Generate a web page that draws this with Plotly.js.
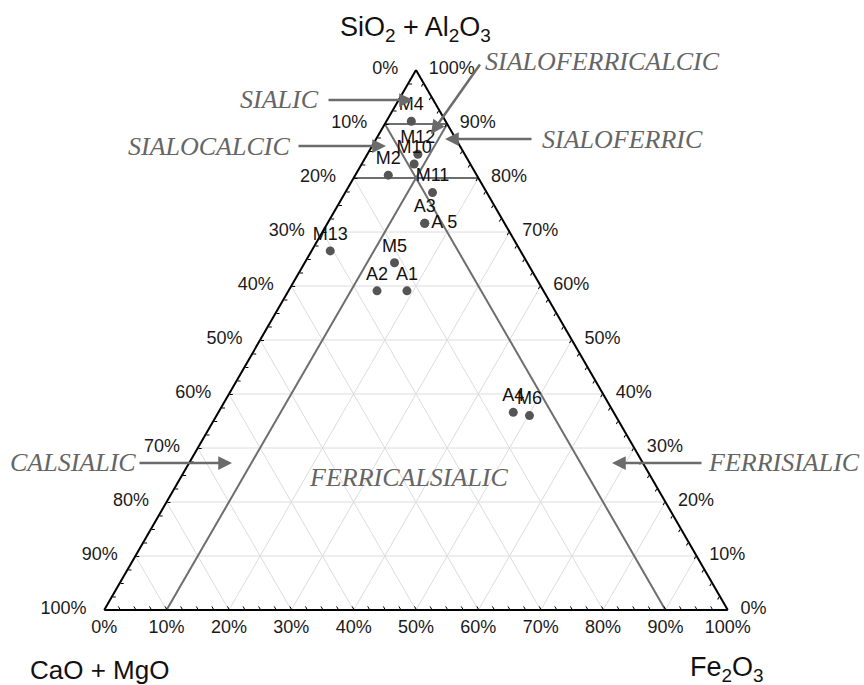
<!DOCTYPE html>
<html><head><meta charset="utf-8">
<script src="https://cdn.plot.ly/plotly-3.0.1.min.js"></script>
<style>html,body{margin:0;padding:0;background:#fff}#chart{width:864px;height:685px}</style>
</head><body><div id="chart"></div>
<script>
// ---- data (percent) ----
const samples   = ['M4','M12','M10','M2','M11','A3','A 5','M13','M5','A2','A1','A4','M6'];
const sio2Al2o3 = [90.5, 84.4, 82.6, 80.6, 77.3, 71.6, 71.6, 66.5, 64.3, 59.1, 59.1, 36.6, 36.0];
const caoMgo    = [ 5.5,  7.5,  9.0, 14.2,  8.7, 12.8, 12.8, 30.5, 21.3, 26.7, 21.9, 16.1, 13.8];
const fe2o3     = [ 4.0,  8.1,  8.4,  5.3, 14.0, 15.6, 15.6,  3.0, 14.4, 14.2, 19.0, 47.3, 50.2];
const labelPositions = ['top center','top center','top center','top center','top center','top center',
  'middle right','top center','top center','top center','top center','top center','top center'];

// tick labels (clockwise reading of the diagram)
const tickPercents = [0,10,20,30,40,50,60,70,80,90,100];
const tickLabels   = ['100%','90%','80%','70%','60%','50%','40%','30%','20%','10%','0%'];
const minorStep = 2.5;
const gridLevels = [10,20,30,40,50,60,70,80,90];

// field boundaries (a = SiO2+Al2O3, b = CaO+MgO, c = Fe2O3)
const fieldLines = [
  {name:'Fe2O3 = 10%',        a:[0,101], b:[90,-11], c:[10,10]},
  {name:'CaO+MgO = 10%',      a:[0,90],  b:[10,10],  c:[90,0]},
  {name:'SiO2+Al2O3 = 90%',   a:[90,90], b:[10,0],   c:[0,10]},
  {name:'SiO2+Al2O3 = 80%',   a:[80,80], b:[20,0],   c:[0,20]}
];

// ---- ticks ----
const NB = '\u00a0';
function makeTicks(prefix, suffix) {
  const vals = [], txt = [];
  for (let v = 0; v <= 100 + 1e-9; v += minorStep) {
    vals.push(v);
    const k = tickPercents.indexOf(Math.round(v*10)/10);
    txt.push(k >= 0 ? prefix + tickLabels[k] + suffix : '');
  }
  return {vals, txt};
}
const ticksA = makeTicks('', NB+NB+NB);
const ticksB = makeTicks('', '');
const ticksC = makeTicks(NB+NB, '');

// ---- grid ----
const ga = [], gb = [], gc = [];
gridLevels.forEach(v => {
  ga.push(v, v, null); gb.push(100-v, 0, null); gc.push(0, 100-v, null);
  gb.push(v, v, null); ga.push(100-v, 0, null); gc.push(0, 100-v, null);
  gc.push(v, v, null); ga.push(100-v, 0, null); gb.push(0, 100-v, null);
});

const traces = [];
traces.push({type:'scatterternary', mode:'lines', a:ga, b:gb, c:gc,
  line:{color:'#dcdcdc', width:1}, hoverinfo:'skip', showlegend:false, connectgaps:false});

fieldLines.forEach(f => traces.push({type:'scatterternary', mode:'lines', a:f.a, b:f.b, c:f.c,
  name:f.name, line:{color:'#6e6e6e', width:2}, hoverinfo:'skip', showlegend:false, cliponaxis:false}));

traces.push({type:'scatterternary', mode:'markers+text', a:sio2Al2o3, b:caoMgo, c:fe2o3,
  text:samples, textposition:labelPositions,
  textfont:{family:'Liberation Sans, Arial, sans-serif', size:18, color:'#111'},
  marker:{color:'#555555', size:9}, showlegend:false, cliponaxis:false});

function axis(t) {
  return {
    tickmode:'array', tickvals:t.vals, ticktext:t.txt,
    ticks:'inside', ticklen:3, tickwidth:1, tickcolor:'#000',
    showline:true, linecolor:'#000', linewidth:2, showgrid:false,
    tickfont:{family:'Liberation Sans, Arial, sans-serif', size:18, color:'#1a1a1a'},
    title:{text:''}
  };
}

const W = 864, H = 685;
const px = x => x / W, py = y => 1 - y / H;

const serif = {family:'Liberation Serif, Times New Roman, serif', size:26, color:'#656565'};
const sans = {family:'Liberation Sans, Arial, sans-serif', size:26, color:'#111'};

const regionLabels = [
  {t:'SIALOFERRICALCIC', x:602, y:61},
  {t:'SIALIC',           x:279, y:99},
  {t:'SIALOCALCIC',      x:209, y:146},
  {t:'SIALOFERRIC',      x:622, y:140},
  {t:'CALSIALIC',        x:73,  y:462},
  {t:'FERRISIALIC',      x:784, y:462},
  {t:'FERRICALSIALIC',   x:409, y:477}
];
const arrows = [
  {tx:327, ty:100, hx:413, hy:100},
  {tx:297, ty:146, hx:386, hy:146},
  {tx:533, ty:139, hx:445, hy:139},
  {tx:481, ty:63,  hx:431, hy:134},
  {tx:138, ty:463, hx:232, hy:463},
  {tx:703, ty:463, hx:612, hy:463}
];

const annotations = [];
regionLabels.forEach(r => annotations.push({xref:'paper', yref:'paper', x:px(r.x), y:py(r.y),
  text:'<i>'+r.t+'</i>', showarrow:false, font:serif, xanchor:'center', yanchor:'middle'}));
arrows.forEach(a => annotations.push({xref:'paper', yref:'paper', x:px(a.hx), y:py(a.hy),
  ax:a.tx-a.hx, ay:a.ty-a.hy, text:'', showarrow:true, arrowhead:2, arrowsize:1.1,
  arrowwidth:2.5, arrowcolor:'#6b6b6b', standoff:0}));
annotations.push({xref:'paper', yref:'paper', x:px(415), y:py(29), text:'SiO<sub>2</sub> + Al<sub>2</sub>O<sub>3</sub>',
  showarrow:false, font:{family:sans.family, size:27, color:'#111'}, xanchor:'center', yanchor:'middle'});
annotations.push({xref:'paper', yref:'paper', x:px(99), y:py(670), text:'CaO + MgO',
  showarrow:false, font:sans, xanchor:'center', yanchor:'middle'});
annotations.push({xref:'paper', yref:'paper', x:px(727), y:py(669), text:'Fe<sub>2</sub>O<sub>3</sub>',
  showarrow:false, font:{family:sans.family, size:27, color:'#111'}, xanchor:'center', yanchor:'middle'});

const layout = {
  width:W, height:H, margin:{l:0, r:0, t:0, b:0},
  paper_bgcolor:'#fff', showlegend:false,
  ternary:{
    sum:100, bgcolor:'#fff',
    domain:{x:[86/W, 746/W], y:[75/H, 615/H]},
    aaxis:axis(ticksA),
    baxis:axis(ticksB),
    caxis:axis(ticksC)
  },
  annotations:annotations
};

Plotly.newPlot('chart', traces, layout, {displayModeBar:false, staticPlot:true});
</script></body></html>
